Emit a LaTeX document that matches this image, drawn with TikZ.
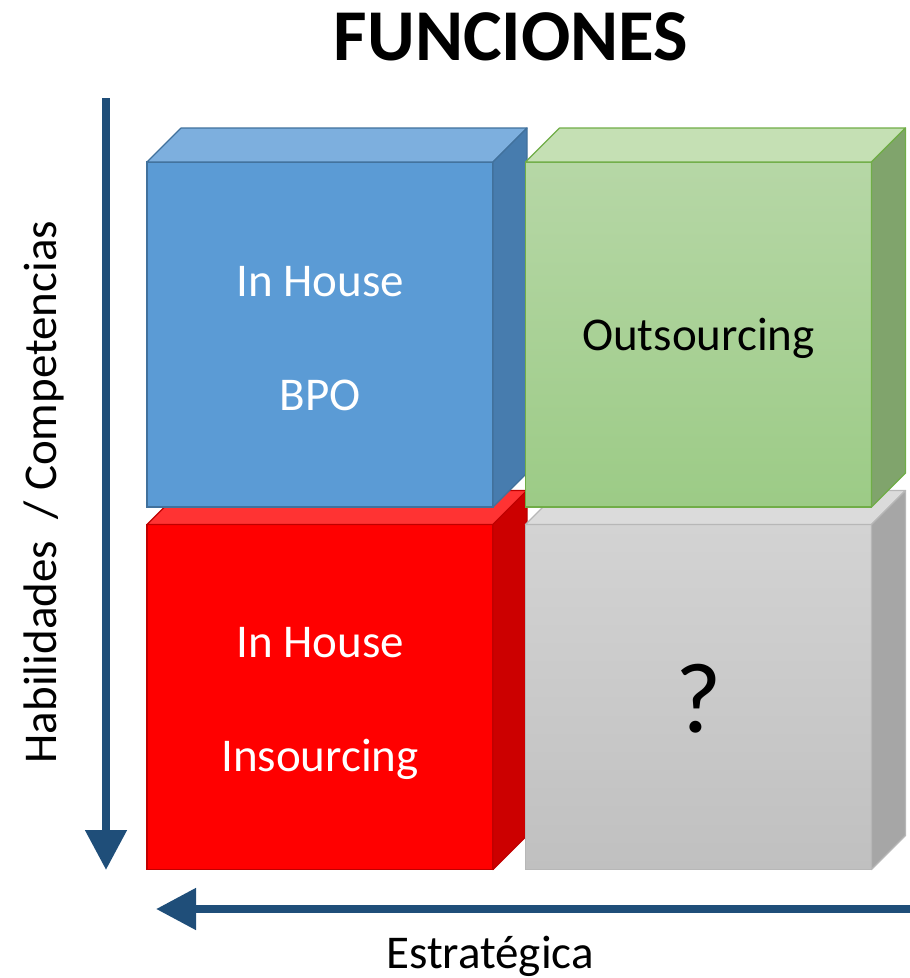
\documentclass[tikz,border=0pt]{standalone}
\usepackage{fontspec}
\setmainfont{Carlito}
\usepackage{tikz}
\usetikzlibrary{arrows.meta}
\usetikzlibrary{positioning}

\definecolor{azulfrente}{RGB}{91,155,213}
\definecolor{azultapa}{RGB}{125,175,222}
\definecolor{azullado}{RGB}{71,124,174}
\definecolor{azulborde}{RGB}{65,113,156}
\definecolor{verdearriba}{RGB}{182,215,166}
\definecolor{verdeabajo}{RGB}{156,203,134}
\definecolor{verdetapa}{RGB}{197,224,180}
\definecolor{verdelado}{RGB}{128,164,108}
\definecolor{verdeborde}{RGB}{112,173,71}
\definecolor{grisarriba}{RGB}{211,211,211}
\definecolor{grisabajo}{RGB}{192,192,192}
\definecolor{gristapa}{RGB}{219,219,219}
\definecolor{grislado}{RGB}{166,166,166}
\definecolor{grisborde}{RGB}{183,183,183}
\definecolor{rojofrente}{RGB}{255,0,0}
\definecolor{rojotapa}{RGB}{255,51,51}
\definecolor{rojolado}{RGB}{204,0,0}
\definecolor{rojoborde}{RGB}{192,0,0}
\definecolor{ejeazul}{RGB}{31,78,121}

\tikzset{
  frente/.style={draw, line width=1.2pt, minimum width=346pt, minimum height=345pt,
    inner sep=0pt, outer sep=0pt, align=center, font=\fontsize{47}{114}\selectfont},
  cara/.style={line width=1.2pt, line join=round},
  eje/.style={line width=8pt, draw=ejeazul, -{Triangle[length=40pt,width=40pt]}},
}

\begin{document}
\begin{tikzpicture}[x=1pt, y=-1pt]
\useasboundingbox (0,0) rectangle (910,978);

% Titulo
\node[font=\bfseries\fontsize{73}{80}\selectfont] (titulo) at (511,37) {FUNCIONES};

% Fila de abajo
\node[frente, fill=rojofrente, draw=rojoborde, text=white, text height=148pt, text depth=0pt] (insourcing) at (320,697) {In House\\Insourcing};
\draw[cara, draw=rojoborde, fill=rojotapa] (insourcing.north west) -- ++(34,-34) -- ++(346,0) -- (insourcing.north east) -- cycle;
\draw[cara, draw=rojoborde, fill=rojolado] (insourcing.north east) -- ++(34,-34) -- ++(0,345) -- (insourcing.south east) -- cycle;

\node[frente, top color=grisarriba, bottom color=grisabajo, draw=grisborde, font=\fontsize{100}{110}\selectfont, text height=71pt, text depth=0pt] (pregunta) at (698.5,697) {?};
\draw[cara, draw=grisborde, fill=gristapa] (pregunta.north west) -- ++(34,-34) -- ++(346,0) -- (pregunta.north east) -- cycle;
\draw[cara, draw=grisborde, fill=grislado] (pregunta.north east) -- ++(34,-34) -- ++(0,345) -- (pregunta.south east) -- cycle;

% Fila de arriba
\node[frente, fill=azulfrente, draw=azulborde, text=white, text height=152pt, text depth=0pt] (bpo) at (320,334.5) {In House\\BPO};
\draw[cara, draw=azulborde, fill=azultapa] (bpo.north west) -- ++(34,-34) -- ++(346,0) -- (bpo.north east) -- cycle;
\draw[cara, draw=azulborde, fill=azullado] (bpo.north east) -- ++(34,-34) -- ++(0,345) -- (bpo.south east) -- cycle;

\node[frente, top color=verdearriba, bottom color=verdeabajo, draw=verdeborde, text depth=0pt] (outsourcing) at (698.5,334.5) {Outsourcing};
\draw[cara, draw=verdeborde, fill=verdetapa] (outsourcing.north west) -- ++(34,-34) -- ++(346,0) -- (outsourcing.north east) -- cycle;
\draw[cara, draw=verdeborde, fill=verdelado] (outsourcing.north east) -- ++(34,-34) -- ++(0,345) -- (outsourcing.south east) -- cycle;

% Ejes
\coordinate (habini) at (106,98);
\coordinate (habfin) at (106,870);
\coordinate (estini) at (912,909);
\coordinate (estfin) at (156,909);
\draw[eje] (habini) -- (habfin);
\draw[eje] (estini) -- (estfin);

% Etiquetas
\node[rotate=90, font=\fontsize{47}{56}\selectfont] (habilidades) at (44,492) {Habilidades~~/ Competencias};
\node[font=\fontsize{47}{56}\selectfont] (estrategica) at (490,956) {Estratégica};
\end{tikzpicture}
\end{document}
